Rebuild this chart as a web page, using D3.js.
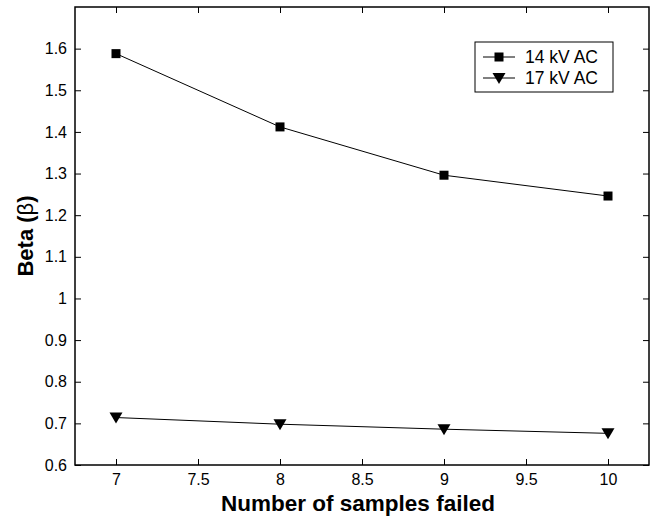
<!DOCTYPE html>
<html>
<head>
<meta charset="utf-8">
<script src="https://cdn.jsdelivr.net/npm/d3@7"></script>
<style>
  body { margin: 0; background: #fff; }
  svg { font-family: "Liberation Sans", Arial, sans-serif; }
</style>
</head>
<body>
<div id="chart"></div>
<script>
// data
const samplesFailed = [7, 8, 9, 10];
const beta14 = [1.588, 1.412, 1.296, 1.246];
const beta17 = [0.714, 0.698, 0.686, 0.676];
const seriesNames = ["14 kV AC", "17 kV AC"];
const xTicks = [7, 7.5, 8, 8.5, 9, 9.5, 10];
const yTicks = [0.6, 0.7, 0.8, 0.9, 1, 1.1, 1.2, 1.3, 1.4, 1.5, 1.6];

const width = 650, height = 526;
const plotLeft = 75, plotRight = 649, plotTop = 7, plotBottom = 465;

const svg = d3.select("#chart").append("svg")
    .attr("width", width)
    .attr("height", height);

const x = d3.scaleLinear().domain([6.75, 10.25]).range([plotLeft, plotRight]);
const y = d3.scaleLinear().domain([0.6, 1.7]).range([plotBottom, plotTop]);

// axes, ticks pointing inward like matlab
const tick = 6;
const styleAxis = (g) => {
  g.select(".domain").remove();
  g.selectAll(".tick line").attr("stroke", "#000").attr("stroke-width", 1);
  g.selectAll(".tick text").attr("fill", "#000").style("font-size", "16px");
};

svg.append("g")
    .attr("transform", `translate(0,${plotBottom})`)
    .call(d3.axisBottom(x).tickValues(xTicks).tickFormat(String).tickSizeInner(-tick).tickSizeOuter(0).tickPadding(9))
    .call(styleAxis);
svg.append("g")
    .attr("transform", `translate(0,${plotTop})`)
    .call(d3.axisTop(x).tickValues(xTicks).tickFormat("").tickSizeInner(-tick).tickSizeOuter(0))
    .call(styleAxis);
svg.append("g")
    .attr("transform", `translate(${plotLeft},0)`)
    .call(d3.axisLeft(y).tickValues(yTicks).tickFormat(String).tickSizeInner(-tick).tickSizeOuter(0).tickPadding(8))
    .call(styleAxis);
svg.append("g")
    .attr("transform", `translate(${plotRight},0)`)
    .call(d3.axisRight(y).tickValues(yTicks).tickFormat("").tickSizeInner(-tick).tickSizeOuter(0))
    .call(styleAxis);

// frame
svg.append("rect")
    .attr("x", plotLeft).attr("y", plotTop)
    .attr("width", plotRight - plotLeft).attr("height", plotBottom - plotTop)
    .attr("fill", "none").attr("stroke", "#000").attr("stroke-width", 1.5);

// markers
const square = (g, cx, cy) => g.append("rect")
    .attr("x", cx - 4.5).attr("y", cy - 4.5)
    .attr("width", 9).attr("height", 9)
    .attr("fill", "#000");
const triangle = (g, cx, cy) => g.append("path")
    .attr("d", `M${cx - 6.5},${cy - 5} L${cx + 6.5},${cy - 5} L${cx},${cy + 6} Z`)
    .attr("fill", "#000");

const line = d3.line()
    .x((d) => x(d[0]))
    .y((d) => y(d[1]));

const series = [
  { name: seriesNames[0], values: beta14, marker: square },
  { name: seriesNames[1], values: beta17, marker: triangle }
];

series.forEach((s) => {
  const pts = samplesFailed.map((v, i) => [v, s.values[i]]);
  const g = svg.append("g");
  g.append("path")
      .datum(pts)
      .attr("d", line)
      .attr("fill", "none")
      .attr("stroke", "#000")
      .attr("stroke-width", 1);
  pts.forEach((p) => s.marker(g, x(p[0]), y(p[1])));
});

// legend
const legend = svg.append("g").attr("transform", "translate(475,42)");
legend.append("rect")
    .attr("width", 138).attr("height", 50)
    .attr("fill", "#fff").attr("stroke", "#000").attr("stroke-width", 1);
series.forEach((s, i) => {
  const ly = 15 + i * 21;
  legend.append("line")
      .attr("x1", 8).attr("x2", 40)
      .attr("y1", ly).attr("y2", ly)
      .attr("stroke", "#000").attr("stroke-width", 1);
  s.marker(legend, 24, ly);
  legend.append("text")
      .attr("x", 50).attr("y", ly)
      .attr("dy", "0.36em")
      .style("font-size", "17.5px")
      .text(s.name);
});

// axis titles
svg.append("text")
    .attr("x", (plotLeft + plotRight) / 2 - 4)
    .attr("y", 511)
    .attr("text-anchor", "middle")
    .style("font-size", "22.5px")
    .style("font-weight", "bold")
    .text("Number of samples failed");

const ylab = svg.append("text")
    .attr("transform", `translate(33,${(plotTop + plotBottom) / 2}) rotate(-90)`)
    .attr("text-anchor", "middle")
    .style("font-size", "22px")
    .style("font-weight", "bold");
ylab.append("tspan").text("Beta (");
ylab.append("tspan").style("font-weight", "normal").text("\u03b2");
ylab.append("tspan").text(")");
</script>
</body>
</html>
